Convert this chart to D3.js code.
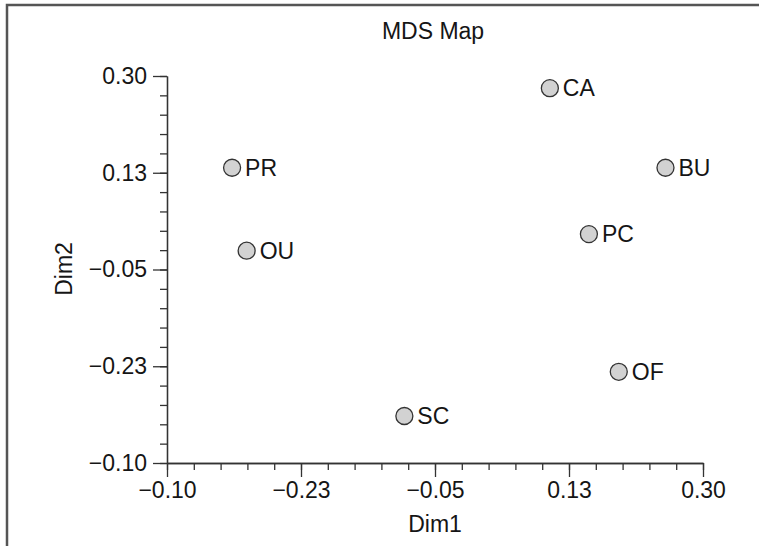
<!DOCTYPE html>
<html>
<head>
<meta charset="utf-8">
<script src="https://cdn.jsdelivr.net/npm/d3@7"></script>
<style>
  body { margin: 0; background: #fff; }
  text { font-family: "Liberation Sans", Arial, sans-serif; fill: #151515; }
</style>
</head>
<body>
<div id="mds_map"></div>
<script>
// Stimulus labels and their MDS coordinates
var labels = ["PR", "OU", "CA", "BU", "PC", "OF", "SC"];
var dim1   = [-0.315, -0.296, 0.100, 0.251, 0.151, 0.190, -0.090];
var dim2   = [0.134, -0.016, 0.278, 0.134, 0.014, -0.235, -0.315];

// Major ticks and the labels printed on them (as in the original figure)
var tickValues  = [-0.40, -0.225, -0.05, 0.125, 0.30];
var xTickLabels = ["\u22120.10", "\u22120.23", "\u22120.05", "0.13", "0.30"];
var yTickLabels = ["\u22120.10", "\u22120.23", "\u22120.05", "0.13", "0.30"];
var minorStep   = 0.035;

var config = {
  "div_id": "mds_map",
  "width": 759,
  "height": 546,
  "plot_left": 167,
  "plot_right": 703,
  "plot_top": 76,
  "plot_bottom": 463,
  "font_size": 23,
  "marker_radius": 8.5,
  "marker_fill": "#d2d2d2",
  "line_color": "#333"
};

var svg = d3.select("#" + config.div_id)
  .append("svg")
    .attr("width", config.width)
    .attr("height", config.height);

// Frame (only top and left edges show in the crop)
svg.append("path")
  .attr("d", "M7,546 V5 H759")
  .attr("fill", "none")
  .attr("stroke", "#555")
  .attr("stroke-width", 2.5);

var x = d3.scaleLinear().domain([-0.40, 0.30]).range([config.plot_left, config.plot_right]);
var y = d3.scaleLinear().domain([-0.40, 0.30]).range([config.plot_bottom, config.plot_top]);

var minorTicks = d3.range(-0.40, 0.30 + 1e-9, minorStep);

function styleAxis(g) {
  g.selectAll("path, line").attr("stroke", config.line_color).attr("stroke-width", 1.3);
  g.selectAll("text")
    .style("font-size", config.font_size + "px")
    .style("font-family", "'Liberation Sans', Arial, sans-serif")
    .attr("fill", "#151515");
}

// Minor ticks
svg.append("g")
  .attr("transform", "translate(0," + config.plot_bottom + ")")
  .call(d3.axisBottom(x).tickValues(minorTicks).tickSize(7).tickSizeOuter(0).tickFormat(""))
  .call(styleAxis);
svg.append("g")
  .attr("transform", "translate(" + config.plot_left + ",0)")
  .call(d3.axisLeft(y).tickValues(minorTicks).tickSize(7).tickSizeOuter(0).tickFormat(""))
  .call(styleAxis);

// Major ticks with labels
svg.append("g")
  .attr("transform", "translate(0," + config.plot_bottom + ")")
  .call(d3.axisBottom(x).tickValues(tickValues).tickSize(14).tickSizeOuter(0).tickPadding(5)
    .tickFormat(function(d, i) { return xTickLabels[i]; }))
  .call(styleAxis);
svg.append("g")
  .attr("transform", "translate(" + config.plot_left + ",0)")
  .call(d3.axisLeft(y).tickValues(tickValues).tickSize(14).tickSizeOuter(0).tickPadding(6)
    .tickFormat(function(d, i) { return yTickLabels[i]; }))
  .call(styleAxis);

// Title and axis titles
svg.append("text")
  .attr("x", 433).attr("y", 39)
  .attr("text-anchor", "middle")
  .style("font-size", config.font_size + "px")
  .text("MDS Map");

svg.append("text")
  .attr("x", 435).attr("y", 532)
  .attr("text-anchor", "middle")
  .style("font-size", config.font_size + "px")
  .text("Dim1");

svg.append("text")
  .attr("transform", "translate(72,269) rotate(-90)")
  .attr("text-anchor", "middle")
  .style("font-size", config.font_size + "px")
  .text("Dim2");

// Points
var points = labels.map(function(l, i) { return { label: l, d1: dim1[i], d2: dim2[i] }; });

var pts = svg.append("g").attr("class", "points")
  .selectAll("g")
  .data(points)
  .enter()
  .append("g")
    .attr("transform", function(d) { return "translate(" + x(d.d1) + "," + y(d.d2) + ")"; });

pts.append("circle")
  .attr("r", config.marker_radius)
  .attr("fill", config.marker_fill)
  .attr("stroke", config.line_color)
  .attr("stroke-width", 1.3);

pts.append("text")
  .attr("x", 13)
  .attr("dy", "0.36em")
  .style("font-size", config.font_size + "px")
  .text(function(d) { return d.label; });
</script>
</body>
</html>
